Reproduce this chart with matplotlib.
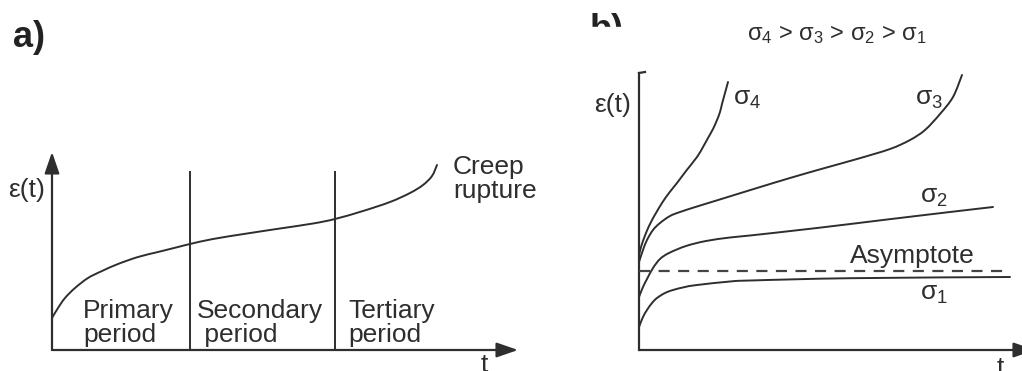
import numpy as np
import matplotlib.pyplot as plt
from matplotlib.patches import Rectangle, PathPatch
from matplotlib.path import Path

plt.rcParams['font.family'] = ['Liberation Sans', 'DejaVu Sans']
plt.rcParams['mathtext.fontset'] = 'custom'
plt.rcParams['mathtext.rm'] = 'Liberation Sans'
plt.rcParams['mathtext.it'] = 'Liberation Sans'

INK = '#2e2e2e'

# --- panel a: typical creep curve ---
t_a = [0, 0.6, 1.3, 2.3, 3.6, 5.0, 6.6, 8.6, 10.6, 12.6, 13.8, 16.1, 19.5,
       22.8, 26.1, 28.3, 31.1, 33.8, 35.8, 37.1, 38.0, 38.5]
eps_a = [3.2, 4.2, 5.2, 6.2, 7.2, 7.9, 8.6, 9.3, 9.8, 10.3, 10.6, 11.1, 11.65,
         12.15, 12.65, 13.1, 13.9, 14.8, 15.7, 16.5, 17.4, 18.5]
period_bounds = [13.8, 28.3]
period_top = 17.8
period_labels = ['Primary\nperiod', 'Secondary\n period', 'Tertiary\nperiod']
period_label_t = [3.1, 14.5, 29.6]

# --- panel b: creep at four stress levels ---
t_s4 = [0, 0.2, 0.7, 1.2, 1.7, 2.3, 3.0, 3.8, 4.7, 5.8, 6.4, 6.9, 7.4, 7.8,
        8.1, 8.3, 8.6, 8.9]
eps_s4 = [9.4, 10.3, 11.7, 12.8, 13.7, 14.7, 15.7, 16.7, 17.9, 19.3, 20.3,
          21.2, 22.1, 23.0, 23.8, 24.6, 25.7, 26.8]
t_s3 = [0, 0.4, 0.8, 1.4, 2.1, 3.1, 4.1, 5.8, 8.4, 11.8, 15.1, 18.4, 21.8,
        25.1, 27.1, 28.6, 30.1, 31.4, 32.3]
eps_s3 = [8.8, 10.0, 11.0, 12.0, 12.7, 13.4, 13.8, 14.35, 15.15, 16.2, 17.2,
          18.15, 19.1, 20.1, 21.0, 22.0, 23.6, 25.3, 27.5]
t_s2 = [0, 0.4, 0.8, 1.4, 2.1, 3.0, 4.7, 6.7, 9.1, 11.1, 17.8, 24.4, 31.1, 35.4]
eps_s2 = [5.3, 6.3, 7.1, 8.2, 9.1, 9.7, 10.4, 10.9, 11.25, 11.45, 12.2, 13.0,
          13.8, 14.3]
t_s1 = [0, 0.4, 0.8, 1.3, 1.8, 2.6, 3.4, 4.6, 5.8, 9.1, 11.1, 21.1, 37.1]
eps_s1 = [2.3, 3.3, 4.0, 4.7, 5.2, 5.7, 6.0, 6.3, 6.5, 6.85, 6.95, 7.18, 7.3]
asymptote = 7.9
asym_end = 37.1

W, H = 1022, 371
fig = plt.figure(figsize=(W / 100, H / 100), dpi=100)


def px_axes(x0, y0, x1, y1):
    # axes box given in pixel coords of the picture (y down)
    return fig.add_axes([x0 / W, 1 - y1 / H, (x1 - x0) / W, (y1 - y0) / H])


def arrow(ax, tip, hl=1.3, hw=0.45):
    ax.annotate('', xy=tip, xytext=(0, 0),
                arrowprops=dict(arrowstyle='-|>,head_length=%g,head_width=%g' % (hl, hw),
                                color=INK, lw=1.6, shrinkA=0, shrinkB=0,
                                mutation_scale=10),
                annotation_clip=False)


def smooth_curve(ax, xs, ys, lw=1.4):
    # Catmull-Rom through the read points, drawn as cubic Bezier segments
    p = np.column_stack([xs, ys]).astype(float)
    ext = np.vstack([p[0], p, p[-1]])
    verts = [p[0]]
    codes = [Path.MOVETO]
    for i in range(len(p) - 1):
        p0, p1, p2, p3 = ext[i], ext[i + 1], ext[i + 2], ext[i + 3]
        verts += [p1 + (p2 - p0) / 6, p2 - (p3 - p1) / 6, p2]
        codes += [Path.CURVE4] * 3
    ax.add_patch(PathPatch(Path(verts, codes), fill=False, edgecolor=INK,
                           lw=lw, clip_on=False, capstyle='round'))


# ---------- a) ----------
ax = px_axes(52, 152, 518, 350)
ax.set_xlim(0, 46.6)
ax.set_ylim(0, 19.8)
ax.axis('off')
arrow(ax, (46.6, 0))
arrow(ax, (0, 19.8))
smooth_curve(ax, t_a, eps_a)
for b in period_bounds:
    ax.plot([b, b], [0, period_top], color=INK, lw=1.4)
for lab, x in zip(period_labels, period_label_t):
    ax.text(x, 5.1, lab, fontsize=19, color=INK, va='top', ha='left',
            linespacing=1.0)
ax.text(40.1, 19.5, 'Creep\nrupture', fontsize=19, color=INK, va='top',
        ha='left', linespacing=1.0, clip_on=False)
ax.text(-2.5, 16.0, 'ε(t)', fontsize=19, color=INK, va='center', ha='center')
ax.text(43.2, -0.3, 't', fontsize=19, color=INK, va='top', ha='center')
fig.text(13 / W, 1 - 47 / H, 'a)', fontsize=26, fontweight='bold',
         color='#222222', va='baseline', ha='left')

# ---------- b) ----------
bx = px_axes(639, 73, 1035, 350)
bx.set_xlim(0, 39.6)
bx.set_ylim(0, 27.7)
bx.axis('off')
arrow(bx, (39.6, 0))
bx.plot([0, 0], [0, 27.7], color=INK, lw=1.6, clip_on=False)
bx.plot([0, 0.6], [27.7, 27.8], color=INK, lw=1.6, clip_on=False)
for tt, ee in [(t_s4, eps_s4), (t_s3, eps_s3), (t_s2, eps_s2), (t_s1, eps_s1)]:
    smooth_curve(bx, tt, ee)
bx.plot([0, asym_end], [asymptote, asymptote], color='#444444', lw=1.6,
        dashes=(5, 3.8))
bx.text(9.4, 24.5, 'σ$_4$', fontsize=19, color=INK, va='baseline')
bx.text(27.6, 24.5, 'σ$_3$', fontsize=19, color=INK, va='baseline')
bx.text(28.1, 14.7, 'σ$_2$', fontsize=19, color=INK, va='baseline')
bx.text(21.1, 8.7, 'Asymptote', fontsize=19, color=INK, va='baseline')
bx.text(28.1, 5.0, 'σ$_1$', fontsize=19, color=INK, va='baseline')
bx.text(-2.6, 24.5, 'ε(t)', fontsize=19, color=INK, va='center', ha='center')
bx.text(36.1, -0.6, 't', fontsize=19, color=INK, va='top', ha='center')
fig.text(837 / W, 1 - 40 / H, 'σ$_4$ > σ$_3$ > σ$_2$ > σ$_1$', fontsize=17,
         color=INK, va='baseline', ha='center')

# partly hidden panel tag, as in the source figure
fig.text(590 / W, 1 - 13 / H, 'b)', fontsize=26, fontweight='bold',
         color='#222222', va='top', ha='left')
fig.add_artist(Rectangle((580 / W, 1 - 60 / H), 50 / W, 33 / H,
                         transform=fig.transFigure, color='white', zorder=10))

fig.savefig('out.png', dpi=100, facecolor='white')
